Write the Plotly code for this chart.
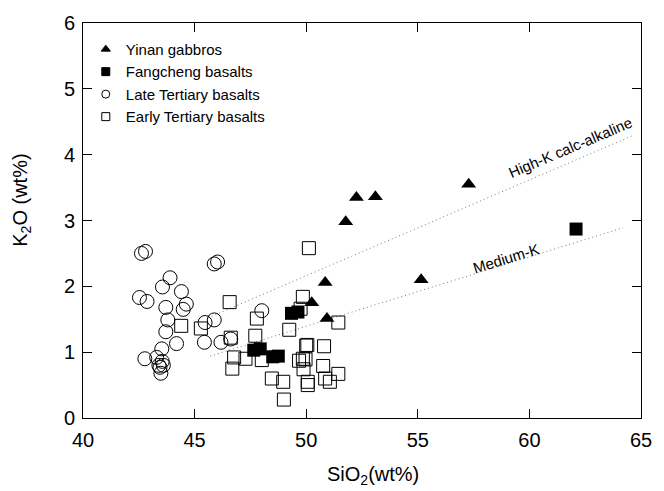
import plotly.graph_objects as go

# ---- data ----
yinan_x = [57.28, 52.25, 53.10, 51.77, 50.85, 55.15, 50.25, 50.93]
yinan_y = [3.55, 3.35, 3.36, 2.98, 2.06, 2.10, 1.75, 1.51]

fang_x = [49.34, 49.63, 47.65, 47.94, 48.50, 48.75, 62.09]
fang_y = [1.59, 1.61, 1.03, 1.05, 0.93, 0.94, 2.87]

late_x = [42.62, 42.80, 45.88, 46.03, 43.90, 43.56, 42.53, 42.87, 44.41, 44.63,
          44.49, 43.71, 43.80, 43.71, 45.47, 45.88, 44.19, 45.44, 46.18, 46.62,
          48.01, 43.53, 42.77, 43.30, 43.55, 43.40, 43.60, 43.45, 43.49]
late_y = [2.50, 2.53, 2.34, 2.37, 2.13, 1.99, 1.83, 1.77, 1.92, 1.73,
          1.65, 1.68, 1.49, 1.31, 1.45, 1.49, 1.13, 1.15, 1.15, 1.20,
          1.63, 1.05, 0.90, 0.92, 0.86, 0.80, 0.80, 0.77, 0.68]

early_x = [50.12, 49.85, 49.75, 51.44, 46.57, 47.79, 47.72, 49.24, 46.62, 44.40,
           45.28, 50.00, 50.05, 50.80, 46.77, 47.28, 48.01, 49.68, 49.85, 49.97,
           49.88, 46.69, 50.76, 51.44, 48.46, 48.97, 50.07, 50.07, 50.85, 51.06,
           49.00]
early_y = [2.58, 1.84, 1.66, 1.45, 1.76, 1.51, 1.25, 1.34, 1.22, 1.40,
           1.36, 1.10, 1.11, 1.09, 0.92, 0.90, 0.88, 0.87, 0.90, 0.89,
           0.74, 0.75, 0.79, 0.67, 0.60, 0.55, 0.55, 0.50, 0.60, 0.55,
           0.28]

# boundary lines, end points
highk_x = [45.6, 64.7]
highk_y = [1.52, 4.30]
medk_x = [45.7, 64.2]
medk_y = [0.94, 2.89]

x_ticks = [40, 45, 50, 55, 60, 65]
y_ticks = [0, 1, 2, 3, 4, 5, 6]

FONT = "Liberation Sans, Arial, Helvetica, sans-serif"
BLACK = "#000000"

fig = go.Figure()

# boundary lines
for lx, ly in [(highk_x, highk_y), (medk_x, medk_y)]:
    fig.add_trace(go.Scatter(x=lx, y=ly, mode="lines",
                             line=dict(color="#777777", width=1, dash="1px,3px"),
                             showlegend=False, hoverinfo="skip"))

# data traces
fig.add_trace(go.Scatter(x=late_x, y=late_y, mode="markers", showlegend=False,
                         marker=dict(symbol="circle-open", size=14, color=BLACK,
                                     line=dict(width=1, color=BLACK))))
fig.add_trace(go.Scatter(x=early_x, y=early_y, mode="markers", showlegend=False,
                         marker=dict(symbol="square-open", size=13, color=BLACK,
                                     line=dict(width=1, color=BLACK))))
fig.add_trace(go.Scatter(x=fang_x, y=fang_y, mode="markers", showlegend=False,
                         marker=dict(symbol="square", size=13, color=BLACK)))
fig.add_trace(go.Scatter(x=yinan_x, y=yinan_y, mode="markers", showlegend=False,
                         marker=dict(symbol="triangle-up", size=13, color=BLACK)))

# legend-only entries (smaller symbols like the reference legend)
legend_items = [
    ("Yinan gabbros", "triangle-up"),
    ("Fangcheng basalts", "square"),
    ("Late Tertiary basalts", "circle-open"),
    ("Early Tertiary basalts", "square-open"),
]
for name, sym in legend_items:
    fig.add_trace(go.Scatter(x=[None], y=[None], mode="markers", name=name,
                             marker=dict(symbol=sym, size=8, color=BLACK,
                                         line=dict(width=1, color=BLACK))))

axis_common = dict(
    showline=True, linecolor=BLACK, linewidth=1, mirror="ticks",
    ticks="inside", ticklen=9, tickwidth=1, tickcolor=BLACK,
    showgrid=False, zeroline=False,
    tickfont=dict(family=FONT, size=20, color=BLACK),
)

fig.update_xaxes(range=[40, 65], tickvals=x_ticks, ticklabelstandoff=4, **axis_common)
fig.update_yaxes(range=[0, 6], tickvals=y_ticks, ticklabelstandoff=3, **axis_common)

fig.add_annotation(text="High-K calc-alkaline", x=61.82, y=4.11, xref="x", yref="y",
                   showarrow=False, textangle=-23,
                   font=dict(family=FONT, size=15, color=BLACK))
fig.add_annotation(text="Medium-K", x=58.93, y=2.42, xref="x", yref="y",
                   showarrow=False, textangle=-17,
                   font=dict(family=FONT, size=15, color=BLACK))

# axis titles
fig.add_annotation(text="K<sub>2</sub>O (wt%)", xref="paper", yref="paper",
                   x=0, y=0.55, xshift=-61, xanchor="center", yanchor="middle",
                   showarrow=False, textangle=-90,
                   font=dict(family=FONT, size=20, color=BLACK))
fig.add_annotation(text="SiO<sub>2</sub>(wt%)", xref="paper", yref="paper",
                   x=0.52, y=0, yshift=-57, xanchor="center", yanchor="middle",
                   showarrow=False,
                   font=dict(family=FONT, size=20, color=BLACK))

fig.update_layout(
    width=664, height=491,
    margin=dict(l=83, r=14, t=21, b=73),
    paper_bgcolor="white", plot_bgcolor="white",
    font=dict(family=FONT, color=BLACK),
    showlegend=True,
    legend=dict(x=0.005, y=0.975, xanchor="left", yanchor="top",
                bgcolor="rgba(0,0,0,0)", borderwidth=0,
                font=dict(family=FONT, size=15, color=BLACK),
                tracegroupgap=0, itemwidth=30),
)

fig.write_html("out.html",
               config={"displayModeBar": False},
               post_script="document.body.style.margin='0';document.body.style.overflow='hidden';")
